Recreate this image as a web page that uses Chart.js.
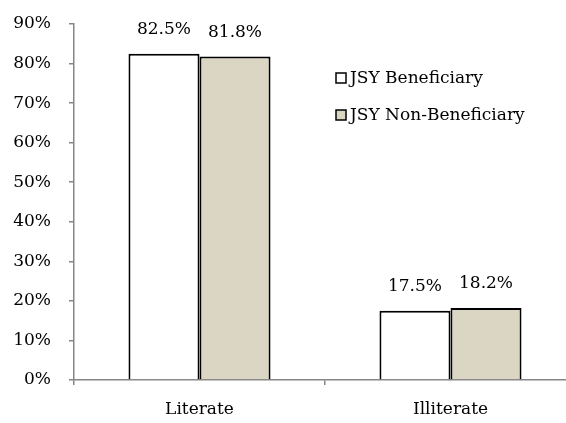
<!DOCTYPE html>
<html><head><meta charset="utf-8">
<script src="https://cdn.jsdelivr.net/npm/chart.js@4/dist/chart.umd.min.js"></script>
<style>html,body{margin:0;padding:0;background:#fff;overflow:hidden;}#wrap{width:600px;height:423px;}</style>
</head><body><div id="wrap"><canvas id="c" width="600" height="423"></canvas></div>
<script>
const categories = ["Literate", "Illiterate"];
const beneficiary = [82.5, 17.5];
const nonBeneficiary = [81.8, 18.2];
const seriesNames = ["JSY Beneficiary", "JSY Non-Beneficiary"];
const yTicks = [0, 10, 20, 30, 40, 50, 60, 70, 80, 90];

const FONT = "'Palatino Linotype','Book Antiqua',Palatino,'DejaVu Serif',serif";
const FS = 17;
const AXIS = '#868686';

const valueLabels = {
  id: 'valueLabels',
  afterDatasetsDraw(chart) {
    const ctx = chart.ctx;
    ctx.save();
    ctx.font = FS + 'px ' + FONT;
    ctx.fillStyle = '#000';
    ctx.textAlign = 'center';
    ctx.textBaseline = 'middle';
    chart.data.datasets.forEach((ds, i) => {
      chart.getDatasetMeta(i).data.forEach((bar, j) => {
        ctx.fillText(ds.data[j].toFixed(1) + '%', bar.x, bar.y - 24);
      });
    });
    ctx.restore();
  }
};

const customLegend = {
  id: 'customLegend',
  afterDraw(chart) {
    const ctx = chart.ctx;
    ctx.save();
    ctx.font = FS + 'px ' + FONT;
    ctx.textBaseline = 'middle';
    ctx.textAlign = 'left';
    chart.data.datasets.forEach((ds, i) => {
      const y = 78 + i * 37;
      ctx.fillStyle = ds.backgroundColor;
      ctx.strokeStyle = '#000';
      ctx.lineWidth = 1.5;
      ctx.fillRect(336, y - 5, 10, 10);
      ctx.strokeRect(336, y - 5, 10, 10);
      ctx.fillStyle = '#000';
      ctx.fillText(ds.label, 350, y + 1);
    });
    ctx.restore();
  }
};

new Chart(document.getElementById('c'), {
  type: 'bar',
  data: {
    labels: categories,
    datasets: [
      { label: seriesNames[0], data: beneficiary, backgroundColor: '#ffffff', borderColor: '#000', borderWidth: 2, borderSkipped: 'bottom' },
      { label: seriesNames[1], data: nonBeneficiary, backgroundColor: '#dbd6c3', borderColor: '#000', borderWidth: 2, borderSkipped: 'bottom' }
    ]
  },
  options: {
    responsive: false,
    animation: false,
    layout: { padding: { top: 24, right: 24, left: 0, bottom: 0 } },
    datasets: { bar: { categoryPercentage: 0.566, barPercentage: 1.0 } },
    plugins: { legend: { display: false }, tooltip: { enabled: false } },
    scales: {
      x: {
        grid: { display: true, drawOnChartArea: false, offset: true, color: AXIS, tickLength: 5, lineWidth: 1.5 },
        border: { color: AXIS, width: 1.5 },
        ticks: { color: '#000', font: { family: FONT, size: FS }, padding: 14 },
        afterFit(s) { s.height = 43; s.paddingLeft = 0; s.paddingRight = 0; }
      },
      y: {
        min: 0, max: 90,
        afterBuildTicks(s) { s.ticks = yTicks.map(v => ({ value: v })); },
        grid: { display: true, drawOnChartArea: false, color: AXIS, tickLength: 5, lineWidth: 1.5 },
        border: { color: AXIS, width: 1.5 },
        ticks: { color: '#000', font: { family: FONT, size: FS }, padding: 18, callback: v => v + '%' },
        afterFit(s) { s.width = 74; s.paddingTop = 0; s.paddingBottom = 0; }
      }
    }
  },
  plugins: [valueLabels, customLegend]
});
</script></body></html>
